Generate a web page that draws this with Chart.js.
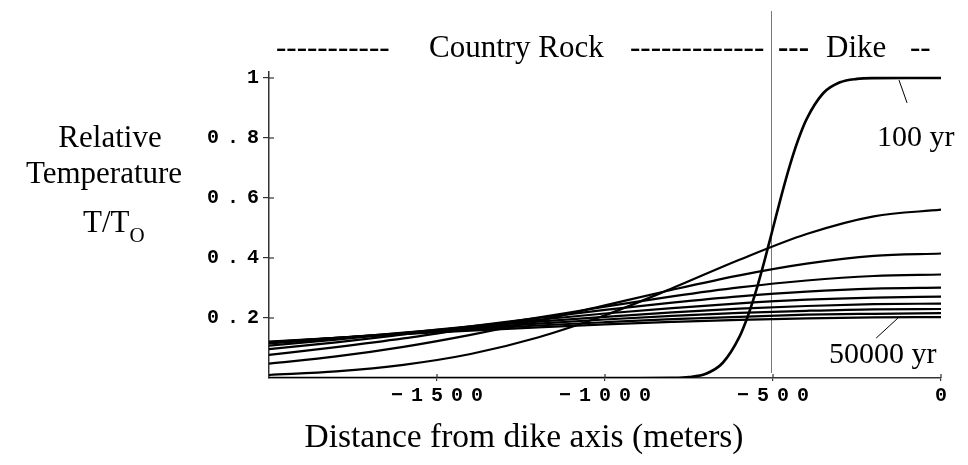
<!DOCTYPE html>
<html><head><meta charset="utf-8">
<script src="https://cdn.jsdelivr.net/npm/chart.js@4.4.0/dist/chart.umd.min.js"></script>
<style>
body{margin:0;background:#fff;}
#wrap{position:relative;width:968px;height:465px;overflow:hidden;background:#fff;}
canvas{position:absolute;left:0;top:0;}
.t{position:absolute;font-family:'Liberation Serif','Times New Roman',serif;font-size:31px;line-height:31px;white-space:nowrap;color:#000;}
.c{transform:translateX(-50%);}
</style></head><body>
<div id="wrap">
<canvas id="c" width="968" height="465"></canvas>
<div class="t c" style="left:110px;top:121px">Relative</div>
<div class="t c" style="left:104px;top:157px">Temperature</div>
<div class="t" style="left:83px;top:206px">T/T<span style="font-size:21px;position:relative;top:10px">O</span></div>
<div class="t" style="left:276px;top:31px">-----------</div>
<div class="t" style="left:429px;top:31px">Country Rock</div>
<div class="t" style="left:630px;top:31px">-------------</div>
<div class="t" style="left:778px;top:31px;font-weight:bold">---</div>
<div class="t" style="left:826px;top:31px">Dike</div>
<div class="t" style="left:910px;top:31px">--</div>
<div class="t" style="left:877px;top:120px;font-size:30px">100 yr</div>
<div class="t" style="left:829px;top:337px;font-size:30px">50000 yr</div>
<div class="t c" style="left:524px;top:420px;font-size:33.5px">Distance from dike axis (meters)</div>
</div>
<script>
// x positions (meters from dike axis)
const xSteep = [-2000,-1000,-900,-800,-750,-700,-650,-600,-575,-550,-525,-500,-475,-450,-425,-400,-350,-300,-250,-200,-100,0];
const xBroad = [-2000,-1800,-1600,-1400,-1200,-1000,-800,-600,-400,-200,0];

// relative temperature
const curve100yr = [0,0,0,0.0005,0.003,0.014,0.050,0.137,0.206,0.292,0.392,0.500,0.608,0.708,0.794,0.863,0.950,0.986,0.997,0.9995,1,1];
const curve2  = [0.010,0.022,0.044,0.080,0.135,0.209,0.299,0.394,0.480,0.539,0.561];
const curve3  = [0.048,0.072,0.104,0.144,0.190,0.242,0.294,0.342,0.381,0.407,0.415];
const curve4  = [0.077,0.103,0.132,0.166,0.201,0.238,0.272,0.302,0.325,0.340,0.345];
const curve5  = [0.096,0.119,0.145,0.172,0.200,0.227,0.251,0.272,0.288,0.298,0.301];
const curve6  = [0.108,0.128,0.150,0.172,0.194,0.215,0.233,0.249,0.261,0.268,0.271];
const curve7  = [0.115,0.132,0.151,0.170,0.188,0.204,0.219,0.231,0.240,0.246,0.248];
const curve8  = [0.118,0.134,0.150,0.166,0.181,0.195,0.207,0.217,0.224,0.229,0.230];
const curve9  = [0.120,0.134,0.148,0.162,0.175,0.186,0.196,0.204,0.211,0.214,0.216];
const curve50000yr = [0.121,0.134,0.146,0.158,0.169,0.179,0.187,0.194,0.199,0.202,0.203];

// ticks
const xTicks = [-1500,-1000,-500,0];
const xTickLabels = ['\u22121500','\u22121000','\u2212500','0'];
const yTicks = [0.2,0.4,0.6,0.8,1];
const yTickLabels = ['0.2','0.4','0.6','0.8','1'];

// annotation anchors (data units)
const dikeBoundary = -506;
const leader100 = [[-125,0.993],[-101,0.917]];
const leader50000 = [[-128,0.200],[-193,0.133]];

const broadSeries = [curve2,curve3,curve4,curve5,curve6,curve7,curve8,curve9,curve50000yr];

const toPts = (xs, ys) => xs.map((x,i)=>({x, y: ys[i]}));
const datasets = [{label:'100 yr', data: toPts(xSteep, curve100yr), borderWidth:2.6}]
  .concat(broadSeries.map((s,i)=>({label: i===broadSeries.length-1 ? '50000 yr' : 'curve '+(i+2), data: toPts(xBroad, s), borderWidth:2.2})));
datasets.forEach(d=>{ d.borderColor='#000'; d.pointRadius=0; d.showLine=true; d.fill=false; d.cubicInterpolationMode='monotone'; });

const SPACING = 8;
const overlay = {
  id:'overlay',
  beforeDraw(chart){ chart.ctx.letterSpacing = SPACING + 'px'; },
  beforeDatasetsDraw(chart){
    const {ctx, scales:{x,y}} = chart;
    ctx.letterSpacing = '0px';
    ctx.save();
    ctx.strokeStyle='#777'; ctx.lineWidth=1;
    const px = Math.round(x.getPixelForValue(dikeBoundary))+0.5;
    ctx.beginPath(); ctx.moveTo(px, 11); ctx.lineTo(px, y.bottom-5); ctx.stroke();
    ctx.restore();
  },
  afterDraw(chart){
    const {ctx, scales:{x,y}} = chart;
    ctx.save();
    ctx.strokeStyle='#333'; ctx.lineWidth=1.2;
    yTicks.forEach(v=>{ const py=y.getPixelForValue(v); ctx.beginPath(); ctx.moveTo(x.left, py); ctx.lineTo(x.left+5, py); ctx.stroke(); });
    xTicks.forEach(v=>{ const px=x.getPixelForValue(v); ctx.beginPath(); ctx.moveTo(px, y.bottom); ctx.lineTo(px, y.bottom-4); ctx.stroke(); });
    ctx.strokeStyle='#000'; ctx.lineWidth=1;
    [leader100, leader50000].forEach(l=>{
      ctx.beginPath();
      ctx.moveTo(x.getPixelForValue(l[0][0]), y.getPixelForValue(l[0][1]));
      ctx.lineTo(x.getPixelForValue(l[1][0]), y.getPixelForValue(l[1][1]));
      ctx.stroke();
    });
    ctx.restore();
  }
};

const tickFont = {family:"'Liberation Mono','Courier New',monospace", size:20, weight:'bold'};
new Chart(document.getElementById('c'), {
  type:'scatter',
  data:{datasets},
  options:{
    responsive:false, animation:false,
    layout:{padding:{top:72,right:27,left:0,bottom:0}},
    plugins:{legend:{display:false}, tooltip:{enabled:false}},
    scales:{
      x:{type:'linear', min:-2000, max:0,
        afterBuildTicks(s){ s.ticks = xTicks.map(v=>({value:v})); },
        afterFit(s){ s.height = 87; },
        ticks:{autoSkip:false, maxRotation:0, minRotation:0, padding:3, color:'#000', font:tickFont,
          labelOffset: SPACING/2,
          callback:(v,i)=>xTickLabels[i]},
        grid:{drawOnChartArea:false, drawTicks:true, tickLength:3, color:'#333', lineWidth:1.2},
        border:{display:true, color:'#333', width:1.5}
      },
      y:{type:'linear', min:0, max:1.02,
        afterBuildTicks(s){ s.ticks = yTicks.map(v=>({value:v})); },
        afterFit(s){ s.width = 269; },
        ticks:{autoSkip:false, padding:4 - SPACING, color:'#000', font:tickFont,
          callback:(v,i)=>yTickLabels[i]},
        grid:{drawOnChartArea:false, drawTicks:true, tickLength:6, color:'#333', lineWidth:1.2},
        border:{display:true, color:'#333', width:1.5}
      }
    }
  },
  plugins:[overlay]
});
</script>
</body></html>
